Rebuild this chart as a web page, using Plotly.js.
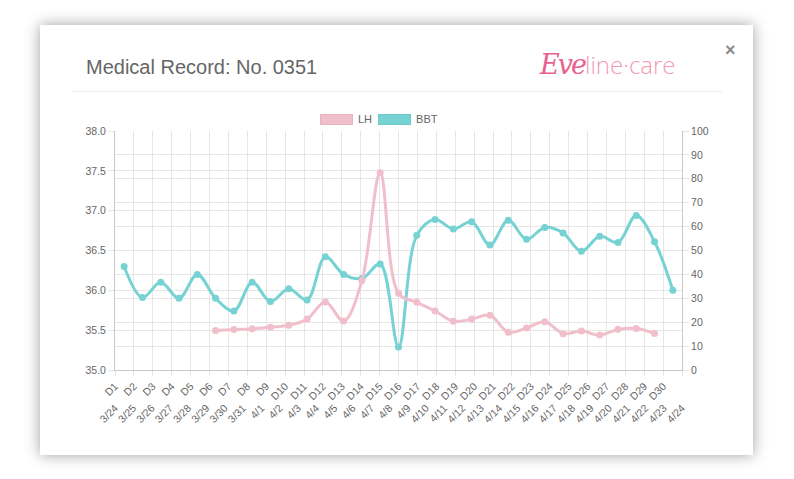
<!DOCTYPE html>
<html><head><meta charset="utf-8">
<script src="https://cdn.plot.ly/plotly-3.0.1.min.js"></script>
<style>
html,body{margin:0;padding:0;width:794px;height:479px;background:#fff;overflow:hidden;font-family:"Liberation Sans",Arial,sans-serif;}
#card{position:absolute;left:40px;top:25px;width:713px;height:430px;background:#fff;box-shadow:0 0 14px rgba(0,0,0,0.38);}
#title{position:absolute;left:86px;top:55px;font-size:20px;line-height:24px;color:#666;white-space:nowrap;}
#logo{position:absolute;left:540px;top:50px;line-height:30px;white-space:nowrap;}
#logo .eve{font-family:"DejaVu Serif",serif;font-style:italic;font-size:27px;color:#e8628d;letter-spacing:-2px;}
#logo .rest{font-family:"Open Sans","Liberation Sans",sans-serif;font-weight:300;font-size:24px;color:#f29bb7;}
#close{position:absolute;left:725px;top:40px;font-size:18px;line-height:20px;color:#8a8a8a;font-weight:bold;}
#sep{position:absolute;left:72px;top:91px;width:650px;height:1px;background:#ececf0;}
#legend{position:absolute;top:112px;left:320px;height:14px;font-size:11px;color:#666;white-space:nowrap;}
#legend .box{display:inline-block;width:31px;height:9px;vertical-align:middle;border:1px solid;}
#legend .lab{display:inline-block;vertical-align:middle;margin-left:5px;margin-right:6px;line-height:14px;}
#chart{position:absolute;left:0;top:0;width:794px;height:479px;}
</style></head>
<body>
<div id="card"></div>
<div id="title">Medical Record: No. 0351</div>
<div id="logo"><span class="eve">Eve</span><span class="rest">line·care</span></div>
<div id="close">×</div>
<div id="sep"></div>
<div id="chart"></div>
<div id="legend"><span class="box" style="background:#f0bfcb;border-color:#eab3c1"></span><span class="lab">LH</span><span class="box" style="background:#77d3d3;border-color:#6ccaca"></span><span class="lab">BBT</span></div>
<script>
var days = ["D1","D2","D3","D4","D5","D6","D7","D8","D9","D10","D11","D12","D13","D14","D15",
            "D16","D17","D18","D19","D20","D21","D22","D23","D24","D25","D26","D27","D28","D29","D30"];
var dates = ["3/24","3/25","3/26","3/27","3/28","3/29","3/30","3/31","4/1","4/2","4/3","4/4","4/5","4/6","4/7","4/8",
             "4/9","4/10","4/11","4/12","4/13","4/14","4/15","4/16","4/17","4/18","4/19","4/20","4/21","4/22","4/23","4/24"];
var bbt = [36.30,35.91,36.10,35.90,36.20,35.90,35.74,36.10,35.86,36.02,35.88,36.42,36.20,36.15,36.33,35.29,
           36.69,36.89,36.77,36.86,36.57,36.88,36.64,36.79,36.72,36.49,36.68,36.60,36.94,36.61,36.00];
var lh = [null,null,null,null,null,16.5,16.9,17.3,17.9,18.7,21.3,28.5,20.5,37.4,82.5,32.1,
          28.3,24.7,20.4,21.3,22.9,15.8,17.6,20.2,15.2,16.3,14.6,17.0,17.4,15.3,null];
var recordDays = dates.slice(0, bbt.length);

var LH_COLOR = "#f0bfcb", BBT_COLOR = "#76d2d3";
var grid = "#e6e6e6", axisLine = "#c9c9c9", tickFont = {family:"Liberation Sans, Arial, sans-serif", size:10.5, color:"#666"};

var dayIdx = days.map(function(d,i){return i;});
var dateIdx = dates.map(function(d,i){return i;});

var traces = [
  /* axis carriers only (no values): make the day / date label axes render */
  {x:dayIdx, y:days.map(function(){return null;}), xaxis:"x2", yaxis:"y", type:"scatter", mode:"lines",
   hoverinfo:"skip", showlegend:false},
  {x:dateIdx, y:dates.map(function(){return null;}), xaxis:"x3", yaxis:"y", type:"scatter", mode:"lines",
   hoverinfo:"skip", showlegend:false},
  {name:"BBT", x:recordDays, y:bbt, xaxis:"x", yaxis:"y", type:"scatter", mode:"lines+markers",
   line:{color:BBT_COLOR, width:3, shape:"spline", smoothing:1}, marker:{color:BBT_COLOR, size:7}, showlegend:false},
  {name:"LH", x:recordDays, y:lh, xaxis:"x", yaxis:"y2", type:"scatter", mode:"lines+markers",
   line:{color:LH_COLOR, width:3, shape:"spline", smoothing:1}, marker:{color:LH_COLOR, size:7}, showlegend:false}
];

var layout = {
  width:794, height:479,
  margin:{l:115, r:112, t:131, b:109, pad:0},
  paper_bgcolor:"rgba(0,0,0,0)", plot_bgcolor:"rgba(0,0,0,0)",
  showlegend:false,
  xaxis:{type:"category", categoryarray:recordDays, range:[-0.5, recordDays.length-0.5],
         showticklabels:false, showgrid:false, zeroline:false, ticks:"",
         showline:true, linecolor:axisLine, linewidth:1, fixedrange:true},
  xaxis2:{overlaying:"x", anchor:"y", side:"bottom", type:"linear", range:[0, days.length],
          tickmode:"array", tickvals:dayIdx.concat([days.length]),
          ticktext:days.concat([""]), tickangle:-45, tickfont:tickFont,
          showgrid:true, gridcolor:grid, gridwidth:1, zeroline:false, showline:false,
          ticks:"outside", ticklen:5, tickcolor:grid, fixedrange:true},
  xaxis3:{overlaying:"x", anchor:"y", side:"bottom", type:"linear", range:[0, dates.length-1],
          tickmode:"array", tickvals:dateIdx, ticktext:dates,
          tickangle:-45, tickfont:tickFont, ticklabelstandoff:29,
          showgrid:false, zeroline:false, showline:false, ticks:"", fixedrange:true},
  yaxis:{range:[35,38], tick0:35, dtick:0.5, tickformat:".1f", tickfont:tickFont,
         showgrid:true, gridcolor:grid, zeroline:false, showline:true, linecolor:axisLine,
         ticks:"outside", ticklen:6, tickcolor:grid, fixedrange:true},
  yaxis2:{overlaying:"y", side:"right", anchor:"x", range:[0,100], tick0:0, dtick:10, tickfont:tickFont,
          showgrid:true, gridcolor:grid, zeroline:false, showline:true, linecolor:axisLine,
          ticks:"outside", ticklen:6, tickcolor:grid, fixedrange:true}
};

Plotly.newPlot("chart", traces, layout, {staticPlot:true, displayModeBar:false});
</script>
</body></html>
